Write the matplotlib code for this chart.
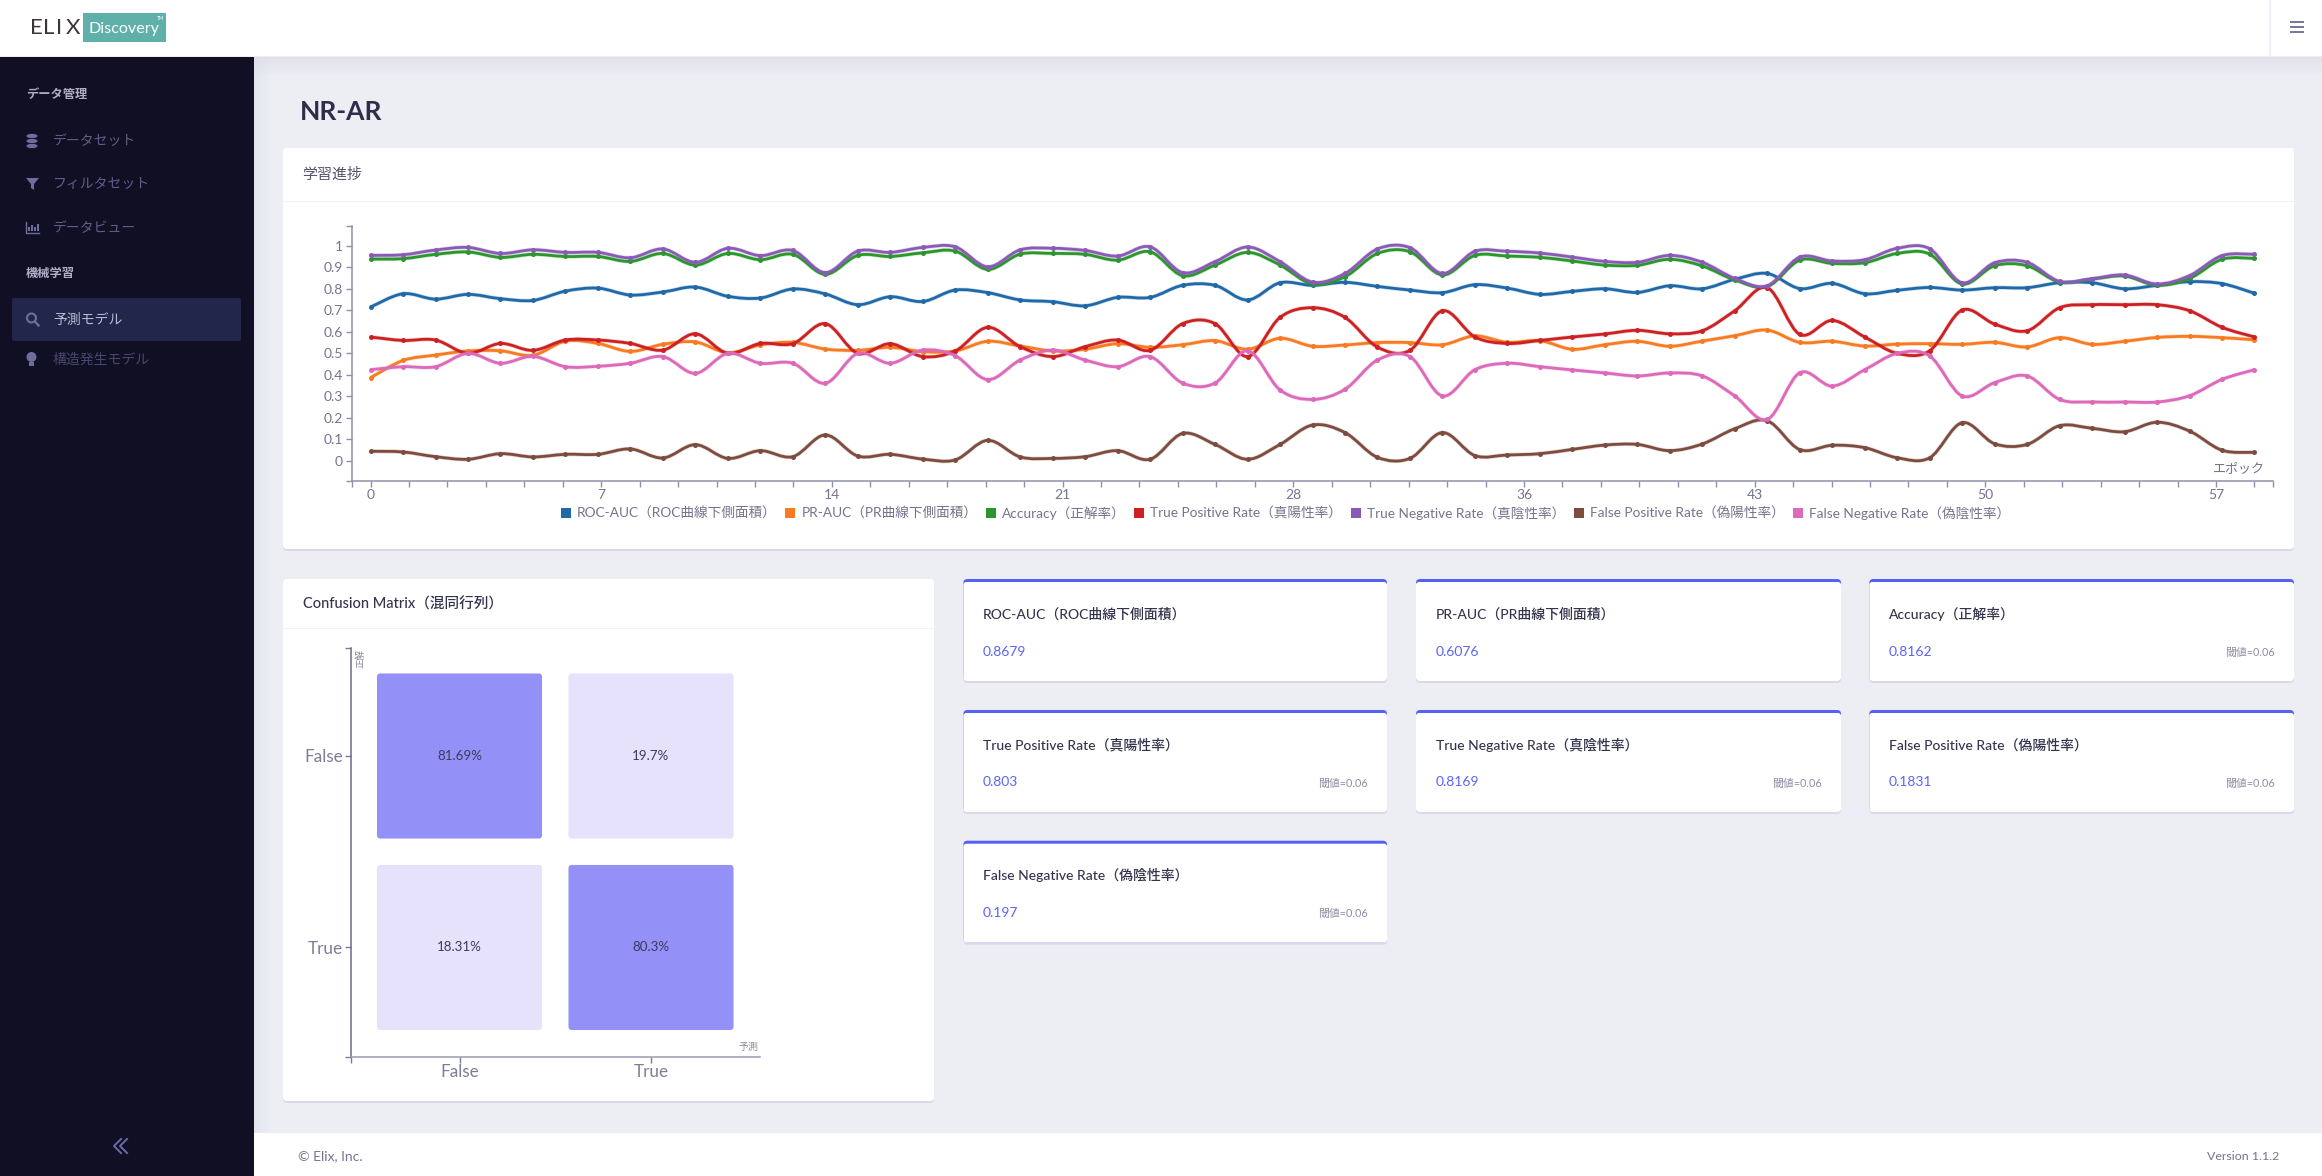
"""
Pantalla de resultados del modelo NR-AR
"""
import numpy as np
import matplotlib
matplotlib.use("Agg")
import matplotlib.pyplot as plt
from matplotlib.patches import FancyBboxPatch, Rectangle, PathPatch, Patch, Circle, Polygon, Ellipse
from matplotlib.path import Path

W, H = 2322, 1176

plt.rcParams['font.family'] = ['Lato', 'Noto Sans CJK JP', 'DejaVu Sans']

# datos del grafico de progreso
roc_auc = [.715, .777, .752, .774, .754, .746, .789, .803, .771, .785, .808, .765, .757, .799, .776,
           .726, .763, .741, .794, .782, .748, .74, .721, .76, .76, .816, .816, .748, .828, .816,
           .83, .811, .794, .782, .819, .803, .774, .788, .8, .783, .814, .8, .844, .871, .801,
           .825, .777, .793, .806, .794, .805, .805, .828, .828, .8, .816, .833, .824, .779]
pr_auc = [.387, .467, .492, .511, .512, .491, .557, .546, .509, .542, .553, .503, .539, .551, .52,
          .514, .528, .508, .511, .556, .534, .511, .519, .545, .528, .54, .559, .519, .57, .533,
          .539, .55, .55, .54, .581, .551, .559, .519, .54, .556, .533, .557, .582, .608, .551,
          .556, .534, .543, .545, .542, .551, .53, .573, .542, .556, .574, .579, .573, .563]
accuracy = [.938, .94, .96, .971, .946, .96, .95, .95, .927, .964, .91, .964, .935, .96, .867,
            .955, .95, .967, .975, .89, .961, .964, .96, .933, .972, .861, .91, .969, .91, .822,
            .856, .964, .972, .864, .955, .952, .946, .929, .91, .909, .937, .906, .841, .81, .933,
            .918, .921, .964, .961, .822, .907, .907, .831, .845, .859, .816, .848, .937, .941]
tpr = [.576, .56, .562, .5, .546, .514, .562, .562, .546, .515, .591, .5, .546, .545, .638,
       .5, .545, .485, .511, .621, .531, .485, .531, .562, .514, .638, .638, .485, .667, .712,
       .667, .529, .514, .698, .576, .546, .56, .576, .59, .607, .591, .605, .698, .805, .588,
       .653, .576, .5, .512, .701, .636, .605, .712, .726, .726, .726, .698, .621, .576]
tnr = [.955, .958, .98, .992, .964, .981, .969, .969, .944, .985, .923, .988, .954, .978, .875,
       .975, .969, .992, .995, .902, .981, .988, .978, .952, .995, .875, .926, .994, .926, .831,
       .871, .985, .991, .871, .974, .974, .966, .947, .927, .923, .955, .923, .848, .814, .947,
       .929, .935, .988, .986, .828, .921, .923, .834, .847, .864, .822, .861, .954, .96]
fpr = [.045, .042, .02, .008, .034, .019, .031, .031, .056, .014, .076, .012, .048, .02, .121,
       .023, .031, .009, .005, .096, .019, .012, .02, .048, .008, .128, .077, .008, .077, .167,
       .132, .017, .012, .132, .025, .028, .034, .054, .074, .077, .048, .079, .15, .187, .053,
       .073, .062, .015, .015, .178, .08, .077, .164, .152, .136, .18, .139, .05, .04]
fnr = [.424, .438, .438, .5, .454, .486, .438, .44, .454, .485, .407, .5, .454, .454, .361,
       .5, .454, .515, .489, .378, .469, .515, .469, .438, .485, .362, .362, .512, .33, .286,
       .333, .469, .485, .302, .424, .454, .438, .423, .409, .395, .409, .395, .302, .193, .41,
       .348, .424, .5, .488, .302, .364, .395, .286, .274, .274, .274, .303, .379, .424]

series_names = ['ROC-AUC（ROC曲線下側面積）', 'PR-AUC（PR曲線下側面積）', 'Accuracy（正解率）',
                'True Positive Rate（真陽性率）', 'True Negative Rate（真陰性率）',
                'False Positive Rate（偽陽性率）', 'False Negative Rate（偽陰性率）']
series_values = [roc_auc, pr_auc, accuracy, tpr, tnr, fpr, fnr]
series_colors = ['#1f69a8', '#f97a20', '#2a962c', '#cc2022', '#8a5bb6', '#7d4c3f', '#dd69bb']

y_ticks = [0, 0.1, 0.2, 0.3, 0.4, 0.5, 0.6, 0.7, 0.8, 0.9, 1]
y_tick_labels = ['0', '0.1', '0.2', '0.3', '0.4', '0.5', '0.6', '0.7', '0.8', '0.9', '1']

# matriz de confusion
cm_labels = ['False', 'True']
cm_values = [[81.69, 19.7], [18.31, 80.3]]
cm_texts = [['81.69%', '19.7%'], ['18.31%', '80.3%']]

# tarjetas de metricas
metric_titles = series_names
metric_values = ['0.8679', '0.6076', '0.8162', '0.803', '0.8169', '0.1831', '0.197']
metric_has_threshold = [False, False, True, True, True, True, True]

BG = '#eceef4'
SIDE = '#100f24'
DARK = '#34344e'
GRAY = '#74748e'
AXIS = '#8f8fa9'
BLUE = '#5a63f7'

fig = plt.figure(figsize=(W / 100, H / 100), dpi=100, facecolor=BG)

ui = fig.add_axes([0, 0, 1, 1])
ui.set_xlim(0, W)
ui.set_ylim(H, 0)
ui.axis('off')


def box_axes(x0, y0, x1, y1):
    ax = fig.add_axes([x0 / W, 1 - y1 / H, (x1 - x0) / W, (y1 - y0) / H])
    ax.patch.set_visible(False)
    return ax


def label(x, y, s, size=10, color=DARK, ha='left', weight='normal', **kw):
    return ui.text(x, y, s, fontsize=size, color=color, ha=ha, va='center', weight=weight, **kw)


def rect(x0, y0, x1, y1, color, z=1, **kw):
    ui.add_patch(Rectangle((x0, y0), x1 - x0, y1 - y0, facecolor=color, edgecolor='none', zorder=z, **kw))


def card(x0, y0, x1, y1, top=False):
    # sombra suave debajo de la tarjeta
    ui.add_patch(FancyBboxPatch((x0, y0 + 1), x1 - x0, y1 - y0 + 1, boxstyle='round,pad=0,rounding_size=4',
                                facecolor='#d9d9e8', edgecolor='none', zorder=2))
    if top:
        ui.add_patch(FancyBboxPatch((x0, y0), x1 - x0, y1 - y0, boxstyle='round,pad=0,rounding_size=4',
                                    facecolor='#5660f5', edgecolor='none', zorder=3))
        ui.add_patch(FancyBboxPatch((x0, y0 + 3), x1 - x0, y1 - y0 - 3, boxstyle='round,pad=0,rounding_size=3',
                                    facecolor='white', edgecolor='none', zorder=3))
    else:
        ui.add_patch(FancyBboxPatch((x0, y0), x1 - x0, y1 - y0, boxstyle='round,pad=0,rounding_size=4',
                                    facecolor='white', edgecolor='none', zorder=3))


def smooth_path(x, y):
    # curva Catmull-Rom como segmentos bezier
    pts = np.column_stack([x, y])
    prev = np.vstack([pts[0], pts[:-1]])
    nxt = np.vstack([pts[1:], pts[-1]])
    tang = (nxt - prev) / 6
    verts = [pts[0]]
    codes = [Path.MOVETO]
    for i in range(len(pts) - 1):
        verts += [pts[i] + tang[i], pts[i + 1] - tang[i + 1], pts[i + 1]]
        codes += [Path.CURVE4] * 3
    return Path(verts, codes)


# marco de la pagina
rect(254, 57, W, 1133, BG, z=0)
for i in range(18):
    rect(254, 57 + i, W, 58 + i, '#dcdce8', z=0.5, alpha=0.7 * (1 - i / 18))
    rect(254 + i, 57, 255 + i, 1133, '#dcdce8', z=0.5, alpha=0.5 * (1 - i / 18))
rect(0, 0, W, 56, 'white', z=1)
rect(254, 1133, W, H, 'white', z=1)
rect(0, 57, 254, H, SIDE, z=1)
rect(2269, 0, 2271, 56, '#f0f0f6', z=2)
for y in [22, 27, 32]:
    rect(2290, y - 1, 2304, y + 1, '#7a7a9e', z=2)

# logo
for ch, x in zip('ELIX', [29.7, 42.7, 56.5, 65.7]):
    label(x, 27.5, ch, size=16, color='#3b3635', zorder=4)
rect(83, 13, 166, 42, '#5fb0a8', z=3)
label(88, 28.5, 'Discovery', size=11.6, color='white', zorder=4)
label(157, 18.5, 'TM', size=3.5, color='white', zorder=4)

# barra lateral
label(26, 94.5, 'データ管理', size=8.8, color='#aeaec6', weight='bold', zorder=4)
label(26, 273.5, '機械学習', size=8.8, color='#aeaec6', weight='bold', zorder=4)
ui.add_patch(FancyBboxPatch((12, 298), 229, 43, boxstyle='round,pad=0,rounding_size=2',
                            facecolor='#22264a', edgecolor='none', zorder=2))
side_items = [('データセット', 141, '#5f5e88'), ('フィルタセット', 184, '#5f5e88'), ('データビュー', 228, '#5f5e88'),
              ('予測モデル', 319.5, '#b9b9d2'), ('構造発生モデル', 359.5, '#47476d')]
for text, y, col in side_items:
    label(53, y, text, size=10, color=col, zorder=4)
ICON = '#6d6d9e'
for dy in [-5, 0, 5]:
    ui.add_patch(Ellipse((32, 141 + dy), 12, 5, facecolor=ICON, edgecolor=SIDE, lw=0.5, zorder=4))
ui.add_patch(Polygon([[26, 178], [39, 178], [34, 184], [34, 190], [31, 188], [31, 184]], facecolor=ICON, zorder=4))
ui.plot([26, 26, 39], [222, 233, 233], color=ICON, lw=1, zorder=4)
for x, h in zip([29, 32, 35, 38], [4, 6, 4, 7]):
    rect(x - 0.6, 231 - h, x + 0.6, 231, ICON, z=4)
ui.add_patch(Circle((31.5, 318), 4.5, facecolor='none', edgecolor=ICON, lw=1.5, zorder=4))
ui.plot([35, 38.5], [321.5, 325.5], color=ICON, lw=1.7, zorder=4)
ui.add_patch(Circle((31.5, 357), 5, facecolor=ICON, edgecolor='none', zorder=4))
rect(29, 362, 34, 366, ICON, z=4)
for dx in [114, 120]:
    ui.plot([dx + 7, dx, dx + 7], [1139, 1146, 1153], color='#6a6aa8', lw=1.4, zorder=4)

label(299.5, 112, 'NR-AR', size=19, color='#2d2f4a', weight='bold', zorder=4)
label(298, 1156.5, '© Elix, Inc.', size=10, color=GRAY, zorder=4)
label(2279, 1156.5, 'Version 1.1.2', size=8.9, color=GRAY, ha='right', zorder=4)

# tarjeta de progreso
card(283, 148, 2294, 549)
rect(283, 200.5, 2294, 202, '#f2f2f8', z=4)
label(302, 175, '学習進捗', size=10.8, color='#55556f', zorder=4)

ax = box_axes(351.7, 225.7, 2273, 480.7)
epochs = np.arange(len(roc_auc))
for name, vals, col in zip(series_names, series_values, series_colors):
    ax.add_patch(PathPatch(smooth_path(epochs, vals), facecolor='none', edgecolor=col, lw=3.0, alpha=0.25, zorder=3))
    ax.add_patch(PathPatch(smooth_path(epochs, vals), facecolor='none', edgecolor=col, lw=2.0, zorder=3))
    ax.plot(epochs, vals, 'o', color=col, ms=3.6, mew=0, zorder=3)
x_lim = (-0.58, 58.57)
y_lim = (-0.0915, 1.093)
ax.set_xlim(*x_lim)
ax.set_ylim(*y_lim)
# los ticks del eje x no caen en epocas enteras, solo se redondea la etiqueta
x_steps = np.linspace(0, 58, 50)
x_pos = [x_lim[0]] + list(x_steps) + [x_lim[1]]
x_text = [''] + [str(int(round(v))) if i % 6 == 0 else '' for i, v in enumerate(x_steps)] + ['']
ax.set_xticks(x_pos)
ax.set_xticklabels(x_text)
ax.set_yticks([y_lim[0]] + y_ticks + [y_lim[1]])
ax.set_yticklabels([''] + y_tick_labels + [''])
for side in ['top', 'right']:
    ax.spines[side].set_visible(False)
for side in ['left', 'bottom']:
    ax.spines[side].set_color(AXIS)
    ax.spines[side].set_linewidth(1.1)
ax.tick_params(axis='both', length=4.3, width=1.0, color=AXIS, labelcolor=GRAY, labelsize=10, pad=2)
label(2265, 468, 'エポック', size=9.4, color=GRAY, ha='right', zorder=6)

handles = [Patch(facecolor=c, edgecolor='none') for c in series_colors]
leg = fig.legend(handles, series_names, loc='center', bbox_to_anchor=(1285.5 / W, 1 - 513 / H), ncol=7,
                 frameon=False, fontsize=9.85, labelcolor=GRAY, handlelength=0.73, handleheight=0.73,
                 handletextpad=0.45, columnspacing=0.62, borderpad=0, borderaxespad=0)

# tarjeta de matriz de confusion
card(283, 579, 934, 1101)
rect(283, 627.5, 934, 629, '#f2f2f8', z=4)
label(303, 604, 'Confusion Matrix（混同行列）', size=10.5, color=DARK, weight='medium', zorder=4)

cm_ax = box_axes(351.4, 648, 759.5, 1057)
size = 0.862
for r in range(2):
    for c in range(2):
        strong = cm_values[r][c] > 50
        cm_ax.add_patch(FancyBboxPatch((c - size / 2, r - size / 2), size, size,
                                       boxstyle='round,pad=0,rounding_size=0.018',
                                       facecolor='#9391f8' if strong else '#e6e2fc', edgecolor='none'))
        cm_ax.text(c, r, cm_texts[r][c], ha='center', va='center', fontsize=9.6, color='#3c3a5e')
cm_ax.set_xlim(-0.5645, 1.5666)
cm_ax.set_ylim(1.572, -0.564)
cm_ax.set_xticks([-0.5645, 0, 1])
cm_ax.set_xticklabels(['', cm_labels[0], cm_labels[1]])
cm_ax.set_yticks([-0.564, 0, 1, 1.572])
cm_ax.set_yticklabels(['', cm_labels[0], cm_labels[1], ''])
for side in ['top', 'right']:
    cm_ax.spines[side].set_visible(False)
cm_ax.spines['left'].set_color('#6a6a88')
cm_ax.spines['bottom'].set_color('#9a9ab0')
for side in ['left', 'bottom']:
    cm_ax.spines[side].set_linewidth(1.1)
cm_ax.tick_params(axis='both', length=4.3, width=1.0, color='#7c7c98', labelcolor='#7d7d96', labelsize=12.3, pad=2)
cm_ax.tick_params(axis='x', pad=1)
label(361, 658, '正解', size=6.8, color='#8a8aa0', ha='center', rotation=90, zorder=6)
label(759, 1047, '予測', size=7.2, color='#8a8aa0', ha='right', zorder=6)

# tarjetas de metricas
card_x = [(963.4, 1387), (1416, 1841), (1869.3, 2294)]
card_y = [579, 710, 840.7]
for i, (title, value, thr) in enumerate(zip(metric_titles, metric_values, metric_has_threshold)):
    x0, x1 = card_x[i % 3]
    y0 = card_y[i // 3]
    card(x0, y0, x1, y0 + 102, top=True)
    label(x0 + 19.5, y0 + 34.7, title, size=10, color=DARK, weight='medium', zorder=5)
    label(x0 + 19.5, y0 + 72.5, value, size=10, color=BLUE, zorder=5)
    if thr:
        label(x1 - 19.5, y0 + 73, '閾値=0.06', size=7.8, color='#8e8ea4', ha='right', zorder=5)

fig.savefig('out.png', dpi=100, facecolor=BG)
plt.close(fig)
